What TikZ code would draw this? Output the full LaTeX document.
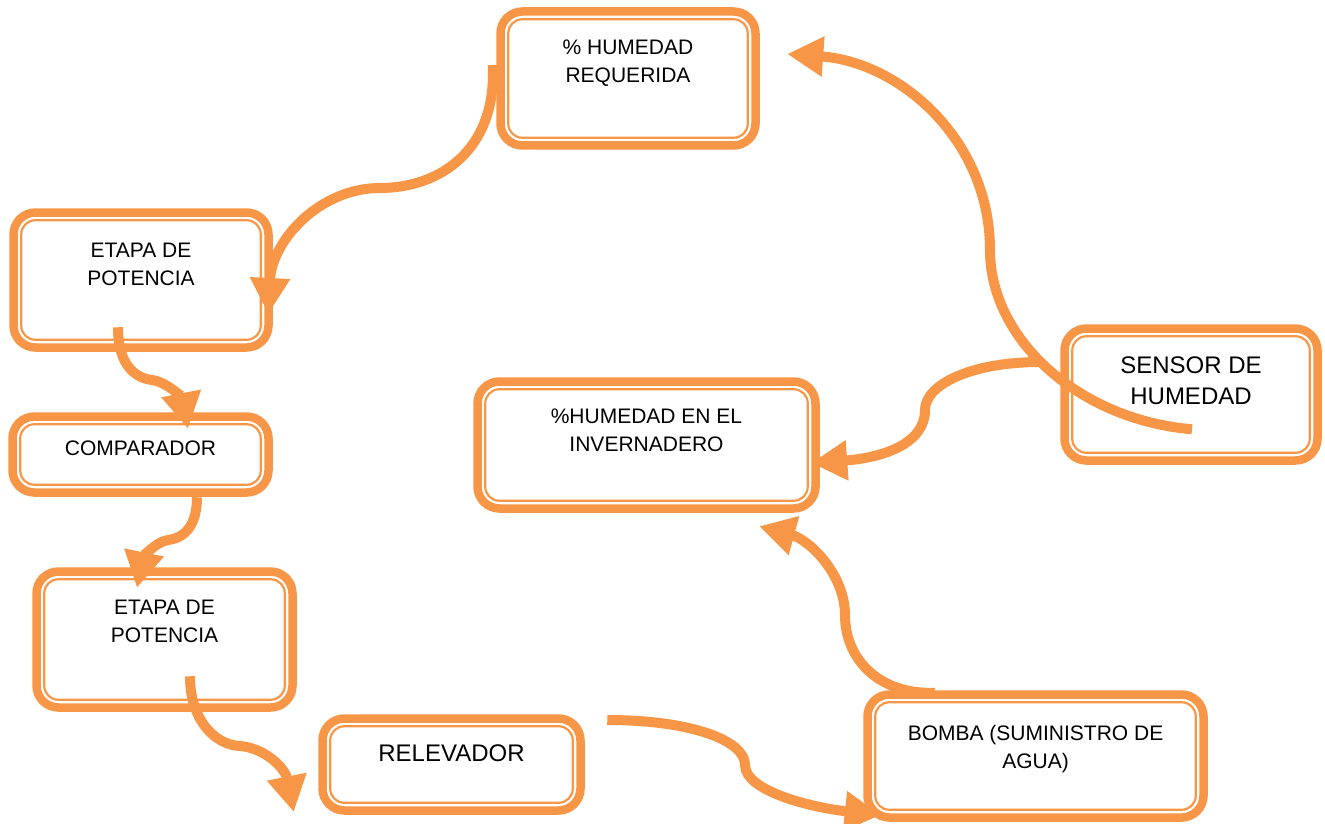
\documentclass[tikz,border=0pt]{standalone}
\usepackage{fontspec}
\setmainfont{Liberation Sans}
\usepackage{xcolor}
\usepackage{tikz}
\usetikzlibrary{calc,positioning,arrows.meta}
\definecolor{naranja}{HTML}{F79646}

\tikzset{
	caja/.style={draw=naranja,line width=8.5pt,rounded corners=22pt,inner sep=0pt},
	marco/.style={draw=naranja,line width=2.2pt,rounded corners=14pt},
	texto/.style={align=center,font=\fontsize{21}{28}\selectfont},
	grande/.style={align=center,font=\fontsize{24}{31}\selectfont},
	flecha/.style={draw=naranja,line width=10pt,-{Triangle[length=36pt,width=38pt]}}
}

\begin{document}
\begin{tikzpicture}[x=1pt,y=-1pt]
	\useasboundingbox (0,0) rectangle (1325,824);
	% cajas
	\node[caja,minimum width=255pt,minimum height=134pt] (hreq) at (628,78.5) {};
	\node[caja,minimum width=255pt,minimum height=135pt] (etapa1) at (141,280) {};
	\node[caja,minimum width=256pt,minimum height=76pt] (comp) at (140.5,454.5) {};
	\node[caja,minimum width=256pt,minimum height=136pt] (etapa2) at (164.5,639.5) {};
	\node[caja,minimum width=258pt,minimum height=92pt] (relev) at (451.5,764.5) {};
	\node[caja,minimum width=253pt,minimum height=132pt] (sensor) at (1191,394.5) {};
	\node[caja,minimum width=338pt,minimum height=127pt] (hinv) at (646.5,445) {};
	\node[caja,minimum width=336pt,minimum height=123pt] (bomba) at (1035.5,756) {};
	\foreach \n in {hreq,etapa1,comp,etapa2,relev,sensor,hinv,bomba}
		\draw[marco] ($(\n.north west)+(12,12)$) rectangle ($(\n.south east)+(-12,-12)$);
	% textos
	\node[texto] (hreq-t) at ($(hreq.north)+(0,55.5)$) {\% HUMEDAD\\REQUERIDA};
	\node[texto] (etapa1-t) at ($(etapa1.north)+(0,56)$) {ETAPA DE\\POTENCIA};
	\node[texto] (comp-t) at ($(comp.north)+(0,36.5)$) {COMPARADOR};
	\node[texto] (etapa2-t) at ($(etapa2.north)+(0,54.5)$) {ETAPA DE\\POTENCIA};
	\node[grande] (relev-t) at ($(relev.north)+(0,38.5)$) {RELEVADOR};
	\node[grande] (sensor-t) at ($(sensor.north)+(0,56.5)$) {SENSOR DE\\HUMEDAD};
	\node[texto] (hinv-t) at ($(hinv.north)+(0,53.5)$) {\%HUMEDAD EN EL\\INVERNADERO};
	\node[texto] (bomba-t) at ($(bomba.north)+(0,58.5)$) {BOMBA (SUMINISTRO DE\\AGUA)};
	% flechas
	\draw[flecha] ($(hreq.west)+(-3.5,-13.5)$) .. controls (497,150) and (440,188) .. (380,188)
		.. controls (320,188) and (272,240) .. ($(etapa1.east)+(-4.5,34)$);
	\draw[flecha] ($(etapa1.south)+(-23,-24.5)$) .. controls (118,365) and (135,378) .. (152,380)
		.. controls (167,382) and (182,398) .. ($(comp.north)+(47.5,16.5)$);
	\draw[flecha] ($(comp.south)+(56.5,0.5)$) .. controls (197,525) and (185,538) .. (168,540)
		.. controls (155,542) and (143,558) .. ($(etapa2.north)+(-27.5,20.5)$);
	\draw[flecha] ($(etapa2.south)+(25.5,-35.5)$) .. controls (190,720) and (215,745) .. (240,746)
		.. controls (265,748) and (285,768) .. ($(relev.west)+(-24.5,47.5)$);
	\draw[flecha] ($(relev.east)+(22.5,-44.5)$) .. controls (690,720) and (745,740) .. (745,765)
		.. controls (745,792) and (815,808) .. ($(bomba.west)+(17.5,59)$);
	\draw[flecha] ($(bomba.north)+(-100.5,2.5)$) .. controls (880,695) and (845,660) .. (845,615)
		.. controls (845,575) and (810,540) .. ($(hinv.south east)+(-60.5,13.5)$);
	\draw[flecha] ($(sensor.west)+(-19.5,-32.5)$) .. controls (970,362) and (925,385) .. (925,410)
		.. controls (925,445) and (880,458) .. ($(hinv.east)+(-8.5,18)$);
	\draw[flecha] ($(sensor.south)+(1,-35.5)$) .. controls (1080,420) and (990,340) .. (990,250)
		.. controls (990,140) and (900,62) .. ($(hreq.east)+(27.5,-24.5)$);
\end{tikzpicture}
\end{document}
